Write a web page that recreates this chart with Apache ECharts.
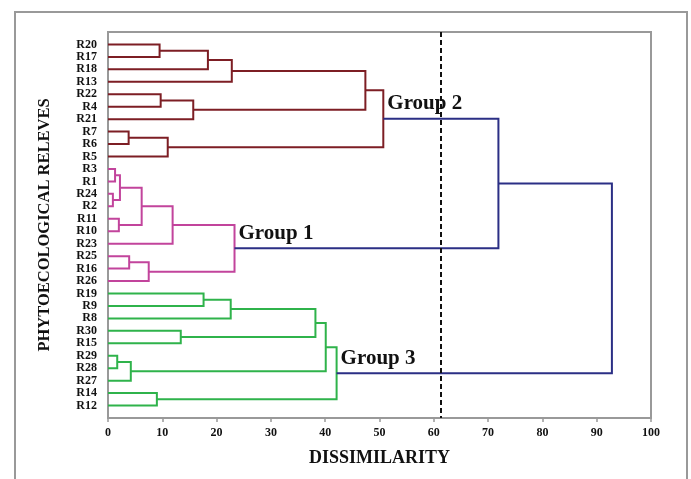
<!DOCTYPE html>
<html>
<head>
<meta charset="utf-8">
<script src="https://cdn.jsdelivr.net/npm/echarts@6/dist/echarts.min.js"></script>
<style>
  html, body { margin: 0; padding: 0; background: #fff; }
  #chart { width: 691px; height: 479px; }
</style>
</head>
<body>
<div id="chart"></div>
<script>
// leaves, top to bottom
const leaves = ['R20', 'R17', 'R18', 'R13', 'R22', 'R4', 'R21', 'R7', 'R6', 'R5',
  'R3', 'R1', 'R24', 'R2', 'R11', 'R10', 'R23', 'R25', 'R16', 'R26',
  'R19', 'R9', 'R8', 'R30', 'R15', 'R29', 'R28', 'R27', 'R14', 'R12'];

// merges: [id, first child, second child, dissimilarity]
const group2Merges = [
  ['g2a', 'R20', 'R17', 9.5],
  ['g2b', 'g2a', 'R18', 18.4],
  ['g2c', 'g2b', 'R13', 22.8],
  ['g2d', 'R22', 'R4', 9.7],
  ['g2e', 'g2d', 'R21', 15.7],
  ['g2f', 'g2c', 'g2e', 47.4],
  ['g2g', 'R7', 'R6', 3.8],
  ['g2h', 'g2g', 'R5', 11.0],
  ['G2', 'g2f', 'g2h', 50.7]
];
const group1Merges = [
  ['g1a', 'R3', 'R1', 1.3],
  ['g1b', 'R24', 'R2', 0.9],
  ['g1c', 'g1a', 'g1b', 2.2],
  ['g1d', 'R11', 'R10', 2.0],
  ['g1e', 'g1c', 'g1d', 6.2],
  ['g1f', 'g1e', 'R23', 11.9],
  ['g1g', 'R25', 'R16', 3.9],
  ['g1h', 'g1g', 'R26', 7.5],
  ['G1', 'g1f', 'g1h', 23.3]
];
const group3Merges = [
  ['g3a', 'R19', 'R9', 17.6],
  ['g3b', 'g3a', 'R8', 22.6],
  ['g3c', 'R30', 'R15', 13.4],
  ['g3d', 'g3b', 'g3c', 38.2],
  ['g3e', 'R29', 'R28', 1.7],
  ['g3f', 'g3e', 'R27', 4.2],
  ['g3g', 'g3d', 'g3f', 40.1],
  ['g3h', 'R14', 'R12', 9.0],
  ['G3', 'g3g', 'g3h', 42.1]
];
const topMerges = [
  ['t1', 'G2', 'G1', 71.9],
  ['t2', 't1', 'G3', 92.8]
];
const groupLabels = [['G2', 'Group 2'], ['G1', 'Group 1'], ['G3', 'Group 3']];
const cutLevel = 61.3;
const xTicks = { min: 0, max: 100, step: 10 };

// node positions: x = height, y = leaf order
const pos = {};
leaves.forEach((name, i) => { pos[name] = [0, i]; });
function link(merges) {
  return merges.map(m => {
    const a = pos[m[1]], b = pos[m[2]];
    pos[m[0]] = [m[3], (a[1] + b[1]) / 2];
    return [a[0], a[1], b[0], b[1], m[3]];
  });
}
const g2Data = link(group2Merges);
const g1Data = link(group1Merges);
const g3Data = link(group3Merges);
const topData = link(topMerges);
const labelData = groupLabels.map(g => ({ value: pos[g[0]], name: g[1] }));

const serif = '"Liberation Serif", "DejaVu Serif", serif';

function elbow(params, api) {
  const p1 = api.coord([api.value(0), api.value(1)]);
  const p2 = api.coord([api.value(4), api.value(1)]);
  const p3 = api.coord([api.value(4), api.value(3)]);
  const p4 = api.coord([api.value(2), api.value(3)]);
  return {
    type: 'polyline',
    shape: { points: [p1, p2, p3, p4] },
    style: { stroke: api.visual('color'), lineWidth: 2, fill: null }
  };
}
function treeSeries(data, color) {
  return {
    type: 'custom',
    renderItem: elbow,
    itemStyle: { color: color },
    data: data,
    encode: { x: [0, 2, 4], y: [1, 3] },
    silent: true,
    z: 3
  };
}

const chart = echarts.init(document.getElementById('chart'));
chart.setOption({
  animation: false,
  graphic: [{
    type: 'rect',
    shape: { x: 15, y: 12, width: 672, height: 500 },
    style: { stroke: '#999', lineWidth: 2, fill: null },
    silent: true
  }],
  grid: {
    left: 108, right: 40, top: 32, bottom: 61,
    show: true, borderColor: '#999', borderWidth: 2
  },
  xAxis: {
    type: 'value',
    min: xTicks.min, max: xTicks.max, interval: xTicks.step,
    name: 'DISSIMILARITY',
    nameLocation: 'middle',
    nameGap: 31,
    nameTextStyle: { fontFamily: serif, fontWeight: 'bold', fontSize: 18, color: '#111' },
    axisLine: { show: true, onZero: false, lineStyle: { color: '#999', width: 2 } },
    axisTick: { show: true, length: 4, lineStyle: { color: '#999', width: 1.5 } },
    axisLabel: { fontFamily: serif, fontWeight: 'bold', fontSize: 12, color: '#111', margin: 9 },
    splitLine: { show: false }
  },
  yAxis: {
    type: 'value',
    inverse: true,
    min: -1, max: 30, interval: 1,
    name: 'PHYTOECOLOGICAL RELEVES',
    nameLocation: 'middle',
    nameGap: 55,
    nameRotate: 90,
    nameTextStyle: { fontFamily: serif, fontWeight: 'bold', fontSize: 16.5, color: '#111' },
    axisLine: { show: true, onZero: false, lineStyle: { color: '#999', width: 2 } },
    axisTick: { show: false },
    axisLabel: {
      fontFamily: serif, fontWeight: 'bold', fontSize: 12, color: '#111', margin: 11,
      formatter: v => (v >= 0 && v < leaves.length && Number.isInteger(v)) ? leaves[v] : ''
    },
    splitLine: { show: false }
  },
  series: [
    treeSeries(g2Data, '#7d1e24'),
    treeSeries(g1Data, '#c2449c'),
    treeSeries(g3Data, '#2fb34b'),
    Object.assign(treeSeries(topData, '#2b2f85'), {
      markLine: {
        silent: true,
        symbol: 'none',
        label: { show: false },
        lineStyle: { color: '#111', type: [5, 3], width: 2 },
        data: [{ xAxis: cutLevel }]
      }
    }),
    {
      type: 'custom',
      data: labelData,
      silent: true,
      z: 5,
      renderItem: (params, api) => {
        const p = api.coord([api.value(0), api.value(1)]);
        return {
          type: 'text',
          style: {
            text: labelData[params.dataIndex].name,
            x: p[0] + 4, y: p[1] - 15,
            align: 'left', verticalAlign: 'middle',
            font: 'bold 21px ' + serif,
            fill: '#111'
          }
        };
      }
    }
  ]
});
</script>
</body>
</html>
